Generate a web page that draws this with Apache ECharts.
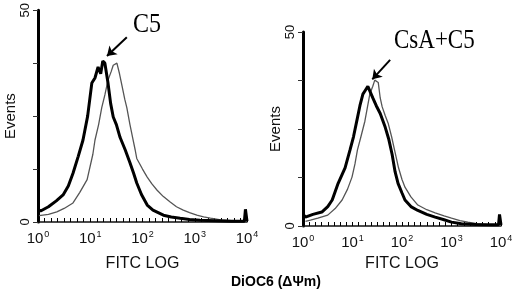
<!DOCTYPE html>
<html>
<head>
<meta charset="utf-8">
<script src="https://cdn.jsdelivr.net/npm/echarts@6/dist/echarts.min.js"></script>
<style>
	html, body { margin: 0; padding: 0; background: #fff; }
	#chart { width: 520px; height: 295px; }
</style>
</head>
<body>
<div id="chart"></div>
<script>
	// x = log10(FITC), y = events
	var leftThin = [[0.02,1.5],[0.2,1.8],[0.36,2.4],[0.5,3.2],[0.67,4.5],[0.8,7],[0.94,10],[1.05,16],[1.09,19.3],[1.16,23],[1.22,27],[1.28,30],[1.34,33.5],[1.4,35.5],[1.44,37],[1.51,37.5],[1.56,35],[1.61,32],[1.66,29],[1.7,27],[1.76,23],[1.81,20],[1.86,17],[1.89,15],[2.0,12.5],[2.09,10.6],[2.18,9],[2.28,7.5],[2.4,6],[2.53,4.7],[2.65,3.6],[2.78,2.8],[2.9,2.2],[3.04,1.6],[3.17,1.2],[3.3,0.9],[3.5,0.5],[3.7,0.3],[3.9,0.2],[4,0.2]];
	var leftThick = [[0.0,3],[0.05,2.6],[0.2,3.6],[0.35,5],[0.48,6.4],[0.58,8.5],[0.67,11.5],[0.77,15.5],[0.86,19.3],[0.95,25],[1.03,32.8],[1.09,34],[1.15,36.6],[1.2,35],[1.24,38],[1.28,37.5],[1.34,32.8],[1.39,28],[1.44,24.8],[1.5,23],[1.57,20],[1.67,17],[1.76,14],[1.83,11.5],[1.89,9.2],[1.98,6.5],[2.09,4],[2.2,2.8],[2.4,1.6],[2.55,1.2],[2.72,0.9],[2.9,0.6],[3.1,0.4],[3.4,0.3],[3.7,0.2],[3.95,0.2],[3.97,3],[4,0.2]];
	var rightThin = [[0.05,1.2],[0.15,1.5],[0.3,2],[0.5,2.8],[0.65,4.5],[0.79,6.7],[0.9,9.5],[0.99,12.6],[1.05,16],[1.1,19.6],[1.17,23],[1.25,27],[1.3,30.5],[1.35,34],[1.41,36],[1.45,37.6],[1.52,37],[1.56,33],[1.6,30.7],[1.66,28.5],[1.72,26.5],[1.79,23],[1.86,19],[1.93,15],[2.0,12],[2.06,10],[2.18,7.5],[2.32,5.4],[2.5,4.2],[2.67,3.4],[2.85,2.6],[3.0,2],[3.17,1.4],[3.33,1],[3.5,0.6],[3.7,0.4],[3.9,0.3],[4,0.3]];
	var rightThick = [[0.0,3],[0.05,2.3],[0.2,3],[0.38,3.6],[0.5,5],[0.59,6.7],[0.71,11],[0.78,13],[0.85,15],[0.95,19.6],[1.02,23],[1.09,27.3],[1.15,31],[1.21,34],[1.26,35],[1.31,36],[1.36,34.5],[1.41,33],[1.48,31],[1.56,29],[1.66,25.5],[1.73,22.5],[1.8,18.5],[1.86,14],[1.92,11],[2.0,8.5],[2.06,6.7],[2.18,5],[2.32,4],[2.5,3],[2.67,2.3],[2.85,1.6],[3.0,1],[3.2,0.6],[3.5,0.4],[3.8,0.3],[3.95,0.3],[3.97,3],[4,0.3]];
	var xTicks = [0, 1, 2, 3, 4];
	var yTickLabels = [0, 50];
	// arrows: [from, to] in data coords
	var leftArrow = [[1.70, 43.6], [1.32, 39.2]];
	var rightArrow = [[1.76, 42.8], [1.40, 37.8]];

	var chart = echarts.init(document.getElementById('chart'));

	function xAxisOpt(idx, gap) {
		return {
			type: 'value', gridIndex: idx, min: 0, max: 4, interval: 0.125,
			name: 'FITC LOG', nameLocation: 'middle', nameGap: gap,
			nameTextStyle: { fontFamily: 'Liberation Sans', fontSize: 16, color: '#111' },
			axisLine: { show: true, onZero: false, lineStyle: { color: '#111', width: 1.5 } },
			axisTick: { show: true, inside: true, length: 4, lineStyle: { color: '#000', width: 1, opacity: 1 } },
			splitLine: { show: false },
			axisLabel: {
				margin: 8, color: '#111', fontFamily: 'Liberation Sans', fontSize: 15,
				formatter: function (v) {
					var r = Math.round(v);
					return (Math.abs(v - r) < 1e-6 && xTicks.indexOf(r) >= 0) ? '10{e|' + r + '}' : '';
				},
				rich: { e: { fontSize: 9, fontFamily: 'Liberation Sans', color: '#111', padding: [0, 0, 9, 1] } }
			}
		};
	}
	function yAxisOpt(idx) {
		return {
			type: 'value', gridIndex: idx, min: 0, max: 50, interval: 12.5,
			name: 'Events', nameLocation: 'middle', nameGap: 20,
			nameTextStyle: { fontFamily: 'Liberation Sans', fontSize: 15, color: '#111' },
			axisLine: { show: true, lineStyle: { color: '#000', width: 3 } },
			axisTick: { show: true, length: 5, lineStyle: { color: '#333' } },
			splitLine: { show: false },
			axisLabel: {
				rotate: 90, margin: 6, color: '#111', fontFamily: 'Liberation Sans', fontSize: 13,
				formatter: function (v) { return yTickLabels.indexOf(v) >= 0 ? String(v) : ''; }
			}
		};
	}
	function lineSeries(idx, data, width, color) {
		return {
			type: 'line', xAxisIndex: idx, yAxisIndex: idx, data: data,
			showSymbol: false, silent: true,
			lineStyle: { width: width, color: color }
		};
	}
	function arrowSeries(idx, coords) {
		return {
			type: 'line', xAxisIndex: idx, yAxisIndex: idx, data: [], silent: true,
			markLine: {
				silent: true, symbol: ['none', 'arrow'], symbolSize: 9,
				label: { show: false },
				lineStyle: { type: 'solid', color: '#000', width: 2 },
				data: [[{ coord: coords[0] }, { coord: coords[1] }]]
			}
		};
	}

	chart.setOption({
		animation: false,
		grid: [
			{ left: 38, top: 10, width: 209, height: 212 },
			{ left: 303, top: 32, width: 198, height: 194 }
		],
		xAxis: [xAxisOpt(0, 34), xAxisOpt(1, 30)],
		yAxis: [yAxisOpt(0), yAxisOpt(1)],
		series: [
			lineSeries(0, leftThin, 1.3, '#555'),
			lineSeries(0, leftThick, 3, '#000'),
			lineSeries(1, rightThin, 1.3, '#555'),
			lineSeries(1, rightThick, 3, '#000'),
			arrowSeries(0, leftArrow),
			arrowSeries(1, rightArrow)
		],
		graphic: [
			{ type: 'text', x: 133, y: 11, scaleY: 1.15, style: { text: 'C5', font: '24px "Liberation Serif"', fill: '#000' } },
			{ type: 'text', x: 394, y: 27, scaleY: 1.2, style: { text: 'CsA+C5', font: '23px "Liberation Serif"', fill: '#000' } },
			{ type: 'text', x: 231, y: 275, style: { text: 'DiOC6 (ΔΨm)', font: 'bold 14px "Liberation Sans"', fill: '#000' } }
		]
	});
</script>
</body>
</html>
